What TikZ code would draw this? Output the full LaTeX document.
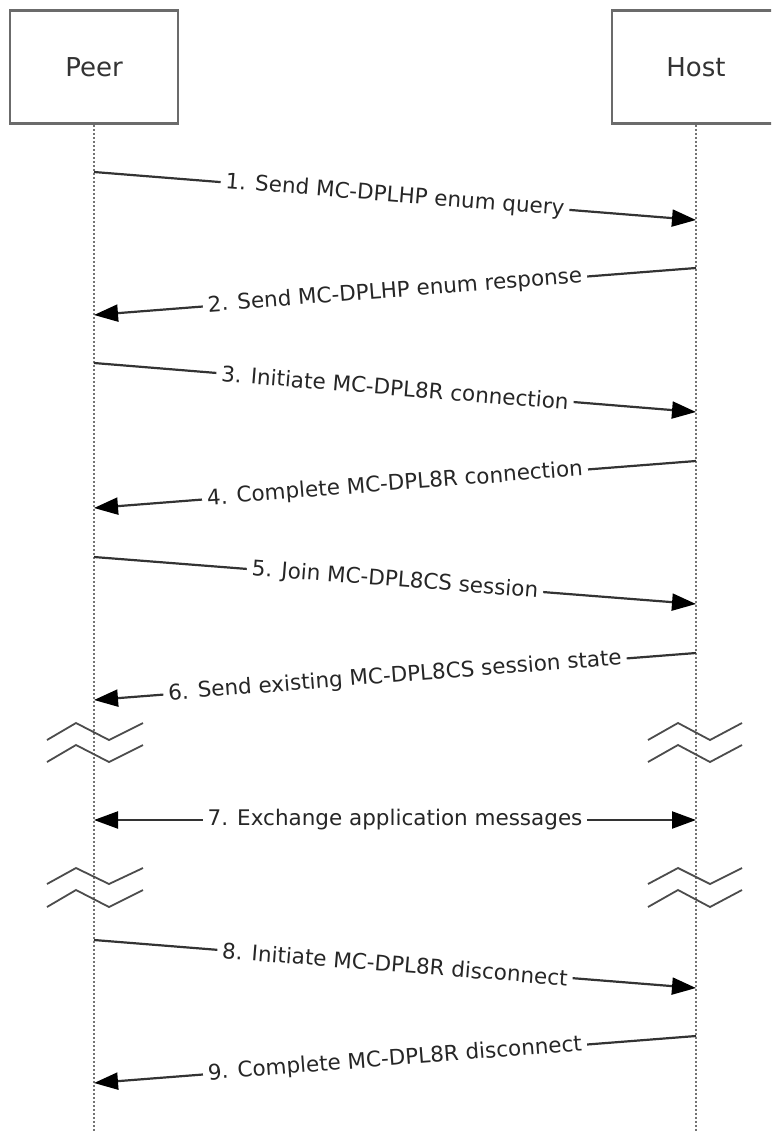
\documentclass[tikz,border=0pt]{standalone}
\usepackage{fontspec}
\setmainfont{DejaVu Sans}
\usetikzlibrary{arrows.meta}

\begin{document}
\begin{tikzpicture}[x=1pt,y=-1pt,
  actor/.style={draw=black!58, line width=2.6pt, minimum width=168pt,
    minimum height=113pt, font=\fontsize{26}{30}\selectfont, text=black!80},
  life/.style={draw=black!55, line width=2pt, dash pattern=on 2pt off 2pt},
  msg/.style={draw=black!80, line width=2.2pt,
    -{Triangle[length=24pt,width=17pt,fill=black,color=black]}},
  lbl/.style={fill=white, sloped, inner xsep=5pt, inner ysep=1pt,
    font=\fontsize{21.5}{25}\selectfont, text=black!85},
  brk/.style={draw=black!70, line width=1.8pt}]

% Page frame
\useasboundingbox (0,0) rectangle (771,1131);
\clip (0,0) rectangle (771,1131);

% Actor boxes
\node[actor] (peer) at (94,67) {Peer};
\node[actor] (host) at (696,67) {Host};

% Lifelines
\coordinate (peerend) at (94,1131);
\coordinate (hostend) at (696,1131);
\draw[life] (peer.south) -- (peerend);
\draw[life] (host.south) -- (hostend);

% Message end points on the lifelines
\coordinate (p1) at (94,172);  \coordinate (h1) at (696,220);
\coordinate (h2) at (696,268); \coordinate (p2) at (94,315);
\coordinate (p3) at (94,363);  \coordinate (h3) at (696,412);
\coordinate (h4) at (696,461); \coordinate (p4) at (94,508);
\coordinate (p5) at (94,557);  \coordinate (h5) at (696,604);
\coordinate (h6) at (696,653); \coordinate (p6) at (94,700);
\coordinate (p7) at (94,820);  \coordinate (h7) at (696,820);
\coordinate (p8) at (94,940);  \coordinate (h8) at (696,988);
\coordinate (h9) at (696,1036); \coordinate (p9) at (94,1083);

% Messages
\draw[msg] (p1) -- node[lbl] (m1) {1. Send MC-DPLHP enum query} (h1);
\draw[msg] (h2) -- node[lbl] (m2) {2. Send MC-DPLHP enum response} (p2);
\draw[msg] (p3) -- node[lbl] (m3) {3. Initiate MC-DPL8R connection} (h3);
\draw[msg] (h4) -- node[lbl] (m4) {4. Complete MC-DPL8R connection} (p4);
\draw[msg] (p5) -- node[lbl] (m5) {5. Join MC-DPL8CS session} (h5);
\draw[msg] (h6) -- node[lbl] (m6) {6. Send existing MC-DPL8CS session state} (p6);
\draw[msg, {Triangle[length=24pt,width=17pt,fill=black,color=black]}-{Triangle[length=24pt,width=17pt,fill=black,color=black]}]
  (p7) -- node[lbl] (m7) {7. Exchange application messages} (h7);
\draw[msg] (p8) -- node[lbl] (m8) {8. Initiate MC-DPL8R disconnect} (h8);
\draw[msg] (h9) -- node[lbl] (m9) {9. Complete MC-DPL8R disconnect} (p9);

% Time breaks
\draw[brk] (47,740) -- (76,723) -- (109,740) -- (143,723);
\draw[brk] (47,762) -- (76,745) -- (109,762) -- (143,745);
\draw[brk] (648,740) -- (678,723) -- (710,740) -- (742,723);
\draw[brk] (648,762) -- (678,745) -- (710,762) -- (742,745);
\draw[brk] (47,884) -- (76,868) -- (109,884) -- (143,868);
\draw[brk] (47,907) -- (76,890) -- (109,907) -- (143,890);
\draw[brk] (648,884) -- (678,868) -- (710,884) -- (742,868);
\draw[brk] (648,907) -- (678,890) -- (710,907) -- (742,890);

\end{tikzpicture}
\end{document}
